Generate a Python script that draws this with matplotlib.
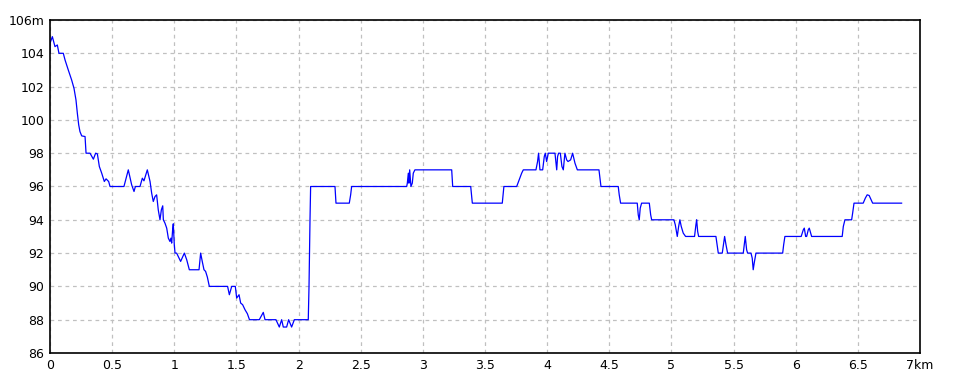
import matplotlib
matplotlib.use("Agg")
import matplotlib.pyplot as plt
from matplotlib.ticker import MultipleLocator, FuncFormatter

# distance along the track (km) and elevation (m)
dist_km = [
    0.0, 0.0, 0.019, 0.040, 0.059, 0.072, 0.107,
    0.121, 0.147, 0.174, 0.193, 0.209, 0.220, 0.231, 0.241, 0.255, 0.282,
    0.290, 0.322, 0.349, 0.367, 0.381, 0.397, 0.416, 0.437, 0.451, 0.472,
    0.483, 0.595, 0.630, 0.657, 0.676, 0.687, 0.724, 0.743, 0.756, 0.783,
    0.805, 0.818, 0.831, 0.845, 0.858, 0.871, 0.885, 0.896, 0.907, 0.912,
    0.925, 0.939, 0.952, 0.965, 0.973, 0.979, 0.987, 0.992, 1.000, 1.006,
    1.019, 1.038, 1.051, 1.081, 1.100, 1.121, 1.199, 1.212, 1.225, 1.239,
    1.252, 1.266, 1.282, 1.429, 1.443, 1.462, 1.491, 1.502, 1.521, 1.534,
    1.550, 1.569, 1.588, 1.605, 1.684, 1.716, 1.730, 1.818, 1.845, 1.864,
    1.877, 1.904, 1.920, 1.944, 1.966, 2.078, 2.084, 2.092, 2.097,
    2.293, 2.301, 2.408, 2.419, 2.427, 2.870, 2.875, 2.883, 2.888, 2.894,
    2.904, 2.915, 2.923, 2.936, 3.232, 3.240, 3.385, 3.398, 3.639, 3.652,
    3.755, 3.795, 3.808, 3.910, 3.923, 3.931, 3.942, 3.950, 3.964, 3.977,
    3.985, 3.996, 4.009, 4.063, 4.077, 4.084, 4.092, 4.106, 4.119, 4.130,
    4.143, 4.157, 4.168, 4.189, 4.205, 4.224, 4.243, 4.417, 4.433, 4.572,
    4.580, 4.591, 4.725, 4.733, 4.741, 4.749, 4.760, 4.822, 4.833, 4.841,
    5.020, 5.031, 5.047, 5.058, 5.068, 5.079, 5.095, 5.114, 5.186, 5.197,
    5.203, 5.211, 5.219, 5.358, 5.369, 5.377, 5.409, 5.420, 5.428, 5.439,
    5.452, 5.578, 5.586, 5.594, 5.605, 5.613, 5.640, 5.650, 5.658, 5.666,
    5.680, 5.895, 5.903, 5.913, 6.044, 6.061, 6.069, 6.080, 6.088, 6.101,
    6.109, 6.120, 6.128, 6.374, 6.383, 6.396, 6.450, 6.458, 6.469, 6.543,
    6.560, 6.575, 6.591, 6.619, 6.852,
]
elev_m = [
    104.0, 104.6, 105.0, 104.4, 104.5, 104.0, 104.0,
    103.6, 103.0, 102.4, 101.9, 101.2, 100.4, 99.7, 99.3, 99.04, 99.0,
    98.0, 98.0, 97.64, 98.0, 97.96, 97.2, 96.8, 96.3, 96.46, 96.3,
    96.0, 96.0, 97.0, 96.1, 95.7, 96.0, 96.0, 96.5, 96.34, 97.0,
    96.3, 95.6, 95.1, 95.4, 95.5, 94.6, 94.0, 94.6, 94.84, 94.0,
    93.8, 93.5, 92.9, 92.7, 92.9, 92.6, 93.44, 93.76, 92.5, 92.0,
    92.0, 91.7, 91.5, 92.0, 91.6, 91.0, 91.0, 92.0, 91.5, 91.0,
    90.9, 90.56, 90.0, 90.0, 89.5, 90.0, 90.0, 89.3, 89.5, 89.0,
    88.9, 88.6, 88.36, 88.0, 88.0, 88.44, 88.0, 88.0, 87.56, 88.0,
    87.56, 87.56, 88.0, 87.56, 88.0, 88.0, 90.0, 94.0, 96.0,
    96.0, 95.0, 95.0, 95.5, 96.0, 96.0, 96.2, 96.8, 96.2, 97.0,
    96.0, 96.2, 96.8, 97.0, 97.0, 96.0, 96.0, 95.0, 95.0, 96.0,
    96.0, 96.8, 97.0, 97.0, 97.5, 98.0, 97.0, 97.0, 97.0, 97.8,
    98.0, 97.5, 98.0, 98.0, 97.0, 97.8, 98.0, 98.0, 97.2, 97.0,
    98.0, 97.6, 97.5, 97.6, 98.0, 97.4, 97.0, 97.0, 96.0, 96.0,
    95.5, 95.0, 95.0, 94.3, 94.0, 94.7, 95.0, 95.0, 94.3, 94.0,
    94.0, 93.7, 93.0, 93.6, 94.0, 93.6, 93.2, 93.0, 93.0, 93.7,
    94.0, 93.3, 93.0, 93.0, 92.4, 92.0, 92.0, 92.6, 93.0, 92.5,
    92.0, 92.0, 92.5, 93.0, 92.2, 92.0, 92.0, 91.7, 91.0, 91.4,
    92.0, 92.0, 92.5, 93.0, 93.0, 93.4, 93.5, 93.0, 93.0, 93.4,
    93.5, 93.2, 93.0, 93.0, 93.6, 94.0, 94.0, 94.4, 95.0, 95.0,
    95.3, 95.5, 95.46, 95.0, 95.0,
]

x_ticks_step = 0.5
y_ticks_step = 2

plt.rcParams['font.family'] = ['Liberation Sans Narrow', 'DejaVu Sans']

fig = plt.figure(figsize=(9.6, 3.84), dpi=100)
ax = fig.add_axes([50 / 960, 1 - 353 / 384, 870 / 960, 333 / 384])

ax.plot(dist_km, elev_m, color="#0000ff", linewidth=0.9)

ax.set_xlim(0, 7)
ax.set_ylim(86, 106)
ax.xaxis.set_major_locator(MultipleLocator(x_ticks_step))
ax.yaxis.set_major_locator(MultipleLocator(y_ticks_step))


def fmt_x(v, pos):
    s = f"{v:g}"
    return s + "km" if abs(v - 7) < 1e-6 else s


def fmt_y(v, pos):
    s = f"{v:g}"
    return s + "m" if abs(v - 106) < 1e-6 else s


ax.xaxis.set_major_formatter(FuncFormatter(fmt_x))
ax.yaxis.set_major_formatter(FuncFormatter(fmt_y))
ax.tick_params(length=0, labelsize=9, pad=4, colors="black")

ax.grid(True, color="#c0c0c0", linestyle=(0, (3, 3)), linewidth=0.9)
ax.set_axisbelow(True)
for side in ax.spines.values():
    side.set_linewidth(1.2)
    side.set_color("black")

fig.savefig("out.png", dpi=100)
